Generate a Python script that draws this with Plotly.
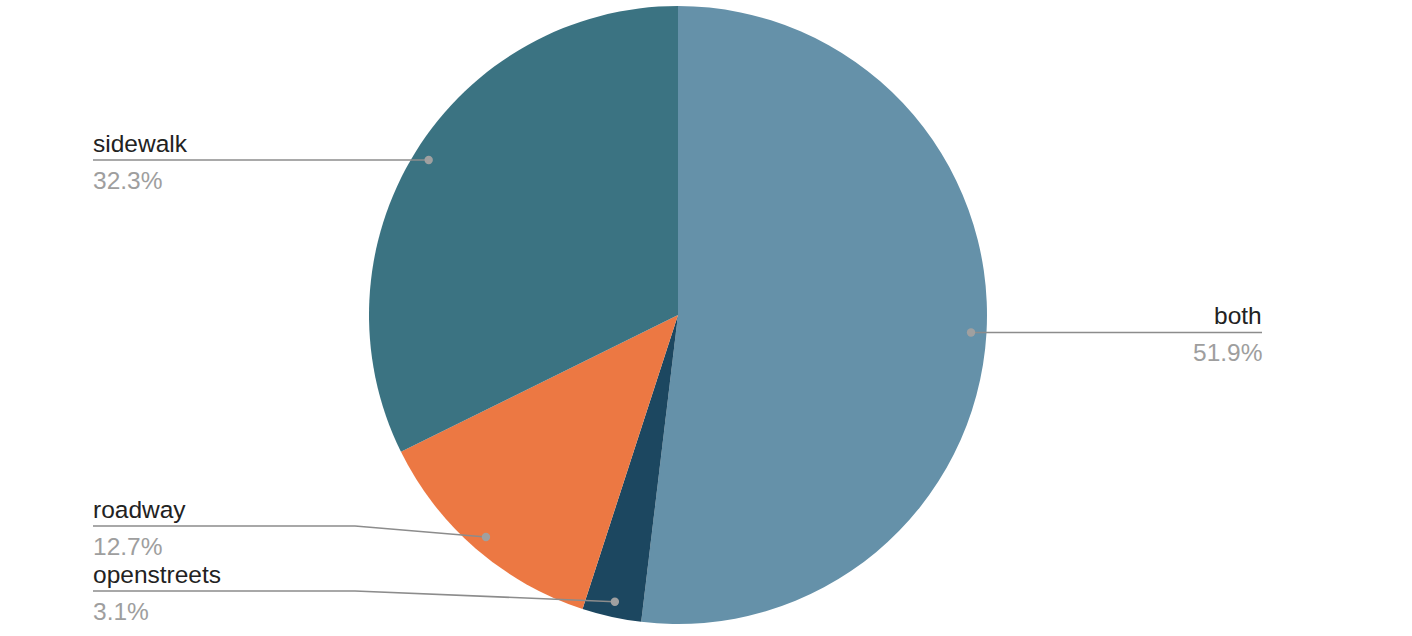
import math
import plotly.graph_objects as go

labels = ["both", "openstreets", "roadway", "sidewalk"]
values = [51.9, 3.1, 12.7, 32.3]
pct_text = ["51.9%", "3.1%", "12.7%", "32.3%"]
colors = ["#6591a9", "#1c4760", "#ec7843", "#3b7382"]

W, H = 1412, 636
CX, CY, R = 678, 315, 309
DOT_R = 0.95 * R
LEFT_X, RIGHT_X = 93, 1262
TEXT_PAD = 2
BEND_X = 355
BOTTOM_LIMIT = 591
SPACING = 65

def px(x):
    return x / W

def py(y):
    return 1 - y / H

fig = go.Figure()
fig.add_trace(go.Pie(
    labels=labels, values=values, sort=False, direction="clockwise", rotation=0,
    marker=dict(colors=colors, line=dict(width=0)), textinfo="none",
    hoverinfo="label+percent", showlegend=False,
    domain=dict(x=[(CX - R) / W, (CX + R) / W], y=[1 - (CY + R) / H, 1 - (CY - R) / H]),
))

total = sum(values)
cum = 0
items = []
for lab, v, pt in zip(labels, values, pct_text):
    a = math.radians((cum + v / 2) / total * 360)
    cum += v
    dx = CX + DOT_R * math.sin(a)
    dy = CY - DOT_R * math.cos(a)
    items.append(dict(label=lab, pct=pt, dx=dx, dy=dy, side="left" if dx < CX else "right"))

# label placement: keep within bottom limit and spaced apart
for side in ("left", "right"):
    grp = sorted([it for it in items if it["side"] == side], key=lambda it: -it["dy"])
    prev = None
    for it in grp:
        y = min(it["dy"], BOTTOM_LIMIT)
        if prev is not None:
            y = min(y, prev - SPACING)
        it["ly"] = y
        prev = y

shapes = []
annotations = []
line_col = "#8c8c8c"
for it in items:
    ly = it["ly"]
    if it["side"] == "left":
        tx, xanchor = LEFT_X - TEXT_PAD, "left"
        if abs(ly - it["dy"]) < 1:
            shapes.append(dict(type="line", xref="paper", yref="paper", x0=px(LEFT_X), y0=py(ly),
                               x1=px(it["dx"]), y1=py(it["dy"]), line=dict(color=line_col, width=1.6), layer="above"))
        else:
            shapes.append(dict(type="path", xref="paper", yref="paper",
                               path=f"M {px(LEFT_X)} {py(ly)} L {px(BEND_X)} {py(ly)} L {px(it['dx'])} {py(it['dy'])}",
                               line=dict(color=line_col, width=1.6), layer="above"))
    else:
        tx, xanchor = RIGHT_X + TEXT_PAD, "right"
        shapes.append(dict(type="line", xref="paper", yref="paper", x0=px(it["dx"]), y0=py(it["dy"]),
                           x1=px(RIGHT_X), y1=py(ly), line=dict(color=line_col, width=1.6), layer="above"))
    rr = 4.2
    shapes.append(dict(type="circle", xref="paper", yref="paper",
                       x0=px(it["dx"] - rr), x1=px(it["dx"] + rr), y0=py(it["dy"] + rr), y1=py(it["dy"] - rr),
                       fillcolor="#a0a0a0", line=dict(width=0), layer="above"))
    annotations.append(dict(x=px(tx), y=py(ly - 17), xref="paper", yref="paper", text=it["label"],
                            showarrow=False, xanchor=xanchor, yanchor="middle",
                            font=dict(family="Liberation Sans, Arial, sans-serif", size=24.5, color="#222222")))
    annotations.append(dict(x=px(tx), y=py(ly + 20), xref="paper", yref="paper", text=it["pct"],
                            showarrow=False, xanchor=xanchor, yanchor="middle",
                            font=dict(family="Liberation Sans, Arial, sans-serif", size=24.5, color="#9e9e9e")))

fig.update_layout(
    width=W, height=H, margin=dict(l=0, r=0, t=0, b=0),
    paper_bgcolor="white", plot_bgcolor="white",
    shapes=shapes, annotations=annotations,
)
fig.write_html("out.html", config={"displayModeBar": False},
               post_script="document.body.style.margin='0';")
